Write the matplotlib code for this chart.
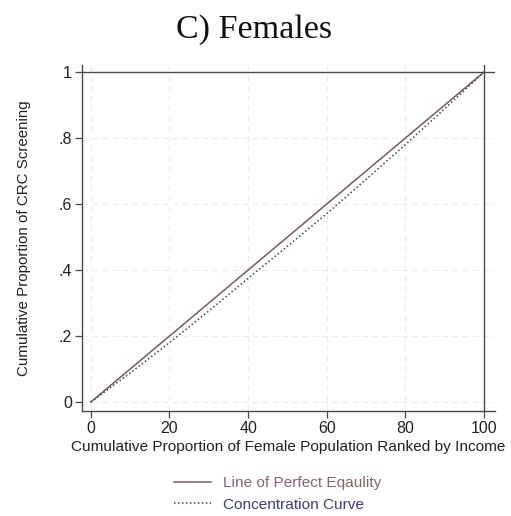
import numpy as np
import matplotlib.pyplot as plt

# population share ranked by income (%) and cumulative share of CRC screening
pop_share = [0, 10, 20, 30, 40, 50, 60, 70, 80, 90, 100]
equality = [0, 0.1, 0.2, 0.3, 0.4, 0.5, 0.6, 0.7, 0.8, 0.9, 1.0]
concentration = [0, 0.088, 0.18, 0.276, 0.375, 0.472, 0.571, 0.675, 0.78, 0.889, 1.0]

xticks = [0, 20, 40, 60, 80, 100]
yticks = [0, 0.2, 0.4, 0.6, 0.8, 1.0]
ytick_labels = ["0", ".2", ".4", ".6", ".8", "1"]

plt.rcParams['font.family'] = ['Liberation Sans', 'DejaVu Sans']

fig = plt.figure(figsize=(5.11, 5.16), dpi=100)
ax = fig.add_axes([0.160, 0.2035, 0.809, 0.6705])

axis_col = "#4a4a4a"

# light dashed grid
for xv in xticks[:-1]:
    ax.axvline(xv, color="#ececec", lw=0.8, ls=(0, (5, 4)), zorder=0)
for yv in yticks[:-1]:
    ax.axhline(yv, color="#ececec", lw=0.8, ls=(0, (5, 4)), zorder=0)

# reference lines at y=1 and x=100
ax.axhline(1, color=axis_col, lw=1.0, zorder=1)
ax.axvline(100, color=axis_col, lw=1.0, zorder=1)

l1, = ax.plot(pop_share, equality, color="#7a5a5e", lw=1.1, zorder=3,
              label="Line of Perfect Eqaulity")
l2, = ax.plot(pop_share, concentration, color="#3d3f6e", lw=1.1,
              ls=(0, (1, 1.6)), zorder=3, label="Concentration Curve")

ax.set_xlim(-2.3, 102.8)
ax.set_ylim(-0.027, 1.021)
ax.set_xticks(xticks)
ax.set_yticks(yticks)
ax.set_yticklabels(ytick_labels)

for s in ["top", "right"]:
    ax.spines[s].set_visible(False)
for s in ["left", "bottom"]:
    ax.spines[s].set_color(axis_col)
    ax.spines[s].set_linewidth(1.0)

ax.tick_params(axis="both", direction="out", length=5, width=0.9,
               color=axis_col, labelsize=11.5, labelcolor="#222222", pad=2)

ax.set_xlabel("Cumulative Proportion of Female Population Ranked by Income",
              fontsize=11.1, color="#222222", labelpad=3)
ax.set_ylabel("Cumulative Proportion of CRC Screening",
              fontsize=10.9, color="#222222", labelpad=20)

fig.text(0.497, 0.943, "C) Females", ha="center", va="center",
         fontsize=24.5, family="Liberation Serif", color="#111111")

leg = fig.legend(handles=[l1, l2], loc="center", bbox_to_anchor=(0.543, 0.043),
                 frameon=False, fontsize=11.1, handlelength=2.4,
                 handletextpad=0.8, labelspacing=0.5)
leg.get_texts()[0].set_color("#8a6468")
leg.get_texts()[1].set_color("#3a3c8c")

fig.savefig("out.png", dpi=100)
